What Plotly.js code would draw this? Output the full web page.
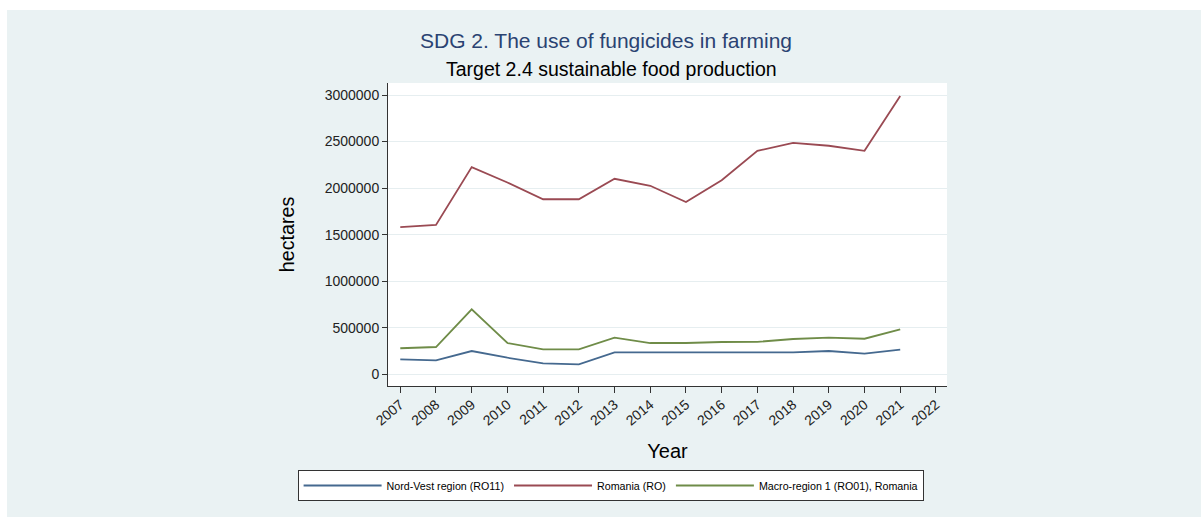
<!DOCTYPE html>
<html>
<head>
<meta charset="utf-8">
<script src="https://cdn.plot.ly/plotly-3.0.1.min.js"></script>
<style>
  html, body { margin: 0; padding: 0; background: #ffffff; width: 1201px; height: 517px; overflow: hidden; }
  #chart { position: absolute; left: 7px; top: 10px; width: 1194px; height: 507px; }
</style>
</head>
<body>
<div id="chart"></div>
<script>
const years = [2007, 2008, 2009, 2010, 2011, 2012, 2013, 2014, 2015, 2016, 2017, 2018, 2019, 2020, 2021];
const tickYears = [2007, 2008, 2009, 2010, 2011, 2012, 2013, 2014, 2015, 2016, 2017, 2018, 2019, 2020, 2021, 2022];
const nordVest = [161000, 150000, 250000, 178000, 118000, 107000, 236000, 236000, 236000, 236000, 236000, 236000, 250000, 221000, 264000];
const romania = [1580000, 1605000, 2225000, 2060000, 1880000, 1880000, 2100000, 2025000, 1850000, 2085000, 2400000, 2485000, 2455000, 2400000, 2990000];
const macro1 = [280000, 293000, 698000, 336000, 268000, 268000, 393000, 336000, 336000, 347000, 348000, 379000, 393000, 382000, 483000];
const yTicks = [0, 500000, 1000000, 1500000, 2000000, 2500000, 3000000];
const seriesNames = ['Nord-Vest region (RO11)', 'Romania (RO)', 'Macro-region 1 (RO01), Romania'];

const FONT = 'Liberation Sans, Arial, Helvetica, sans-serif';

const traces = [
  { x: years, y: nordVest, name: seriesNames[0], type: 'scatter', mode: 'lines',
    line: { color: '#45698f', width: 1.8 } },
  { x: years, y: romania, name: seriesNames[1], type: 'scatter', mode: 'lines',
    line: { color: '#9a4a53', width: 1.8 } },
  { x: years, y: macro1, name: seriesNames[2], type: 'scatter', mode: 'lines',
    line: { color: '#6f8c48', width: 1.8 } }
];

const layout = {
  width: 1194, height: 507,
  paper_bgcolor: '#eaf2f3',
  plot_bgcolor: '#ffffff',
  font: { family: FONT, color: '#000000' },
  margin: { l: 381, r: 254, t: 73, b: 131, autoexpand: false },
  showlegend: true,
  title: {
    text: 'SDG 2. The use of fungicides in farming',
    font: { family: FONT, size: 21, color: '#2a4372' },
    x: 0.5017, xref: 'container', xanchor: 'center',
    y: 1 - 31 / 507, yref: 'container', yanchor: 'middle'
  },
  annotations: [{
    text: 'Target 2.4 sustainable food production',
    xref: 'paper', yref: 'paper',
    x: (604 - 381) / 559, y: (376 - 59) / 303,
    xanchor: 'center', yanchor: 'middle', showarrow: false,
    font: { family: FONT, size: 19.5, color: '#000000' }
  }],
  xaxis: {
    range: [2006.656, 2022.31],
    tickmode: 'array', tickvals: tickYears, ticktext: tickYears.map(String),
    tickangle: -40,
    tickfont: { family: FONT, size: 14, color: '#222222' },
    ticks: 'outside', ticklen: 6, tickwidth: 1, tickcolor: '#333333',
    ticklabelstandoff: -2,
    showline: true, linecolor: '#333333', linewidth: 1,
    showgrid: false, zeroline: false,
    title: { text: 'Year', font: { family: FONT, size: 20, color: '#000000' }, standoff: 16 }
  },
  yaxis: {
    range: [-125700, 3128900],
    tickmode: 'array', tickvals: yTicks, ticktext: yTicks.map(String),
    tickfont: { family: FONT, size: 14, color: '#222222' },
    ticks: 'outside', ticklen: 5, tickwidth: 1, tickcolor: '#333333',
    showline: true, linecolor: '#333333', linewidth: 1,
    showgrid: true, gridcolor: '#e6eef0', gridwidth: 1, zeroline: false,
    title: { text: 'hectares', font: { family: FONT, size: 19.7, color: '#000000' }, standoff: 24 }
  },
  legend: {
    orientation: 'h',
    x: (290.6 - 381) / 559, xanchor: 'left',
    y: (376 - 460) / 303, yanchor: 'top',
    bgcolor: '#ffffff', bordercolor: '#333333', borderwidth: 1,
    font: { family: FONT, size: 10.7, color: '#000000' },
    itemwidth: 78, valign: 'middle'
  }
};

Plotly.newPlot('chart', traces, layout, { displayModeBar: false, staticPlot: true });
</script>
</body>
</html>
